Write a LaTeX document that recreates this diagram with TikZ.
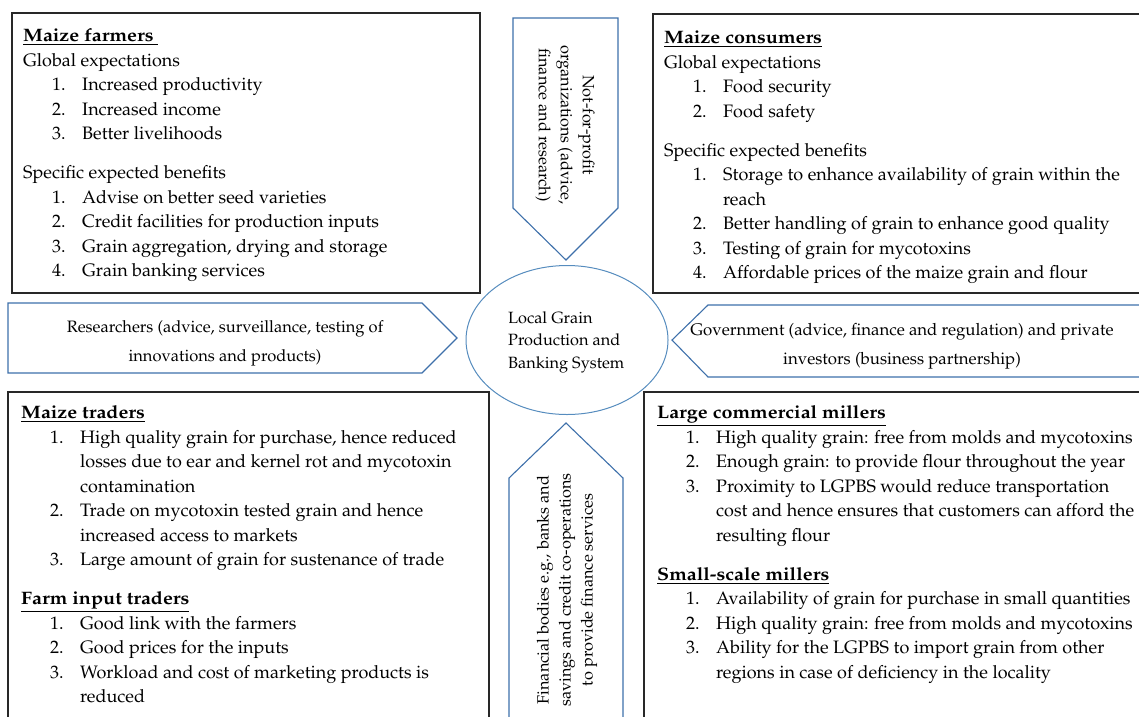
\documentclass[tikz,border=0pt]{standalone}
\usepackage[T1]{fontenc}
\usepackage{mathpazo}
\usetikzlibrary{positioning,shapes.geometric}

\definecolor{shapeblue}{RGB}{62,112,170}
\definecolor{ringblue}{RGB}{86,140,190}
\definecolor{boxline}{RGB}{40,40,40}

% list helpers: number column and hanging continuation
\newcommand{\itm}[2]{\hspace*{29pt}\makebox[30pt][l]{#1.}#2}
\newcommand{\cont}[1]{\hspace*{59pt}#1}
\newcommand{\hd}[1]{\underline{\scalebox{1.1}[1]{\textbf{#1}}}}

\begin{document}
\begin{tikzpicture}[x=1pt,y=-1pt,
  group box/.style={draw=boxline,line width=1.1pt},
  group text/.style={anchor=north west,inner sep=0pt,align=left,font=\fontsize{18}{24.5}\selectfont},
  actor shape/.style={draw=shapeblue,line width=1.1pt,line join=miter},
  actor text/.style={inner sep=0pt,align=center,font=\fontsize{16.5}{29}\selectfont},
  side text/.style={inner sep=0pt,align=center,font=\fontsize{16.3}{22}\selectfont}]%
  \clip (0,0) rectangle (1139,716);

  % four stakeholder boxes
  \draw[group box] (12,13) rectangle (480,293);
  \draw[group box] (653,14) rectangle (1150,293);
  \draw[group box] (8,392) rectangle (489,730);
  \draw[group box] (644,392) rectangle (1150,730);

  \node[group text] (farmers) at (23,28.5) {%
    \hd{Maize farmers\ }\\
    Global expectations\\
    \itm{1}{Increased productivity}\\
    \itm{2}{Increased income}\\
    \itm{3}{Better livelihoods}\\[14.5pt]
    Specific expected benefits\\
    \itm{1}{Advise on better seed varieties}\\
    \itm{2}{Credit facilities for production inputs}\\
    \itm{3}{Grain aggregation, drying and storage}\\
    \itm{4}{Grain banking services}};

  \node[group text] (consumers) at (664,31) {%
    \hd{Maize consumers}\\
    Global expectations\\
    \itm{1}{Food security}\\
    \itm{2}{Food safety}\\[14.5pt]
    Specific expected benefits\\
    \itm{1}{Storage to enhance availability of grain within the}\\
    \cont{reach}\\
    \itm{2}{Better handling of grain to enhance good quality}\\
    \itm{3}{Testing of grain for mycotoxins}\\
    \itm{4}{Affordable prices of the maize grain and flour}};

  \node[group text] (traders) at (21,405.5) {%
    \hd{Maize traders}\\
    \itm{1}{High quality grain for purchase, hence reduced}\\
    \cont{losses due to ear and kernel rot and mycotoxin}\\
    \cont{contamination}\\
    \itm{2}{Trade on mycotoxin tested grain and hence}\\
    \cont{increased access to markets}\\
    \itm{3}{Large amount of grain for sustenance of trade}\\[14.5pt]
    \hd{Farm input traders}\\
    \itm{1}{Good link with the farmers}\\
    \itm{2}{Good prices for the inputs}\\
    \itm{3}{Workload and cost of marketing products is}\\
    \cont{reduced}};

  \node[group text] (millers) at (657,405.5) {%
    \hd{Large commercial millers}\\
    \itm{1}{High quality grain: free from molds and mycotoxins}\\
    \itm{2}{Enough grain: to provide flour throughout the year}\\
    \itm{3}{Proximity to LGPBS would reduce transportation}\\
    \cont{cost and hence ensures that customers can afford the}\\
    \cont{resulting flour}\\[14.5pt]
    \hd{Small-scale millers}\\
    \itm{1}{Availability of grain for purchase in small quantities}\\
    \itm{2}{High quality grain: free from molds and mycotoxins}\\
    \itm{3}{Ability for the LGPBS to import grain from other}\\
    \cont{regions in case of deficiency in the locality}};

  % central system
  \node[draw=ringblue,line width=1pt,ellipse,minimum width=202pt,minimum height=149pt] (lgpbs) at (567,340) {};
  \node[inner sep=0pt,align=left,font=\fontsize{16.3}{22.5}\selectfont,anchor=west] (lgpbstxt) at (508,342) {Local Grain\\Production and\\Banking System};

  % arrows pointing at the system
  \draw[actor shape] (513,18) -- (618,18) -- (618,208) -- (566,260) -- (513,208) -- cycle;
  \draw[actor shape] (8,303) -- (422,303) -- (457,338) -- (422,373) -- (8,373) -- cycle;
  \draw[actor shape] (1150,305) -- (708,305) -- (672,340) -- (708,377) -- (1150,377);
  \draw[actor shape] (509,730) -- (509,478) -- (566,423) -- (623,478) -- (623,730);

  \node[side text,rotate=-90] (npo) at (565,125) {Not-for-profit\\organizations (advice,\\finance and research)};
  \node[actor text] (research) at (225,343) {Researchers (advice, surveillance, testing of\\innovations and products)};
  \node[actor text,font=\fontsize{16.8}{29}\selectfont] (govt) at (902,346) {Government (advice, finance and regulation) and private\\investors (business partnership)};
  \node[side text,rotate=90] (finance) at (567,590) {Financial bodies e.g., banks and\\savings and credit co-operations\\to provide finance services};
\end{tikzpicture}
\end{document}
